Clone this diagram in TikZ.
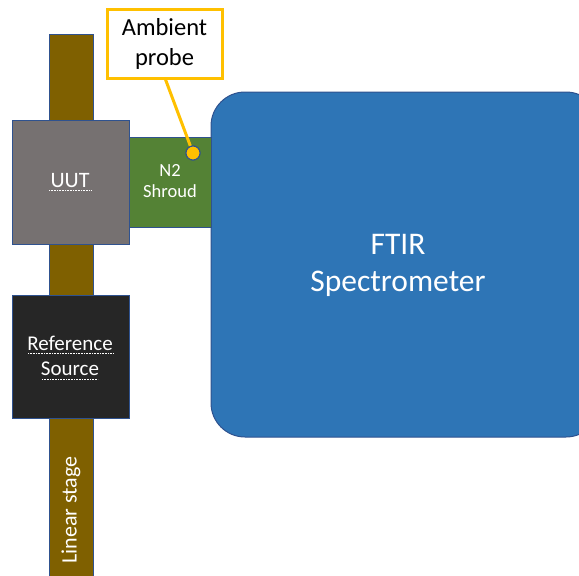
\documentclass[tikz,border=0pt]{standalone}
\usepackage{fontspec}
\setmainfont{Carlito}
\definecolor{stagebrown}{HTML}{7F6000}
\definecolor{uutgray}{HTML}{767171}
\definecolor{shroudgreen}{HTML}{548235}
\definecolor{ftirblue}{HTML}{2E75B6}
\definecolor{edgeblue}{HTML}{2F528F}
\definecolor{probeyellow}{HTML}{FFC000}
\definecolor{refdark}{HTML}{262626}
\begin{document}
\begin{tikzpicture}[x=1pt,y=-1pt,
  blk/.style={draw=edgeblue,line width=1pt,inner sep=0pt},
  wtext/.style={text=white,align=center,inner sep=0pt},
  ul/.style={white,line width=0.6pt,densely dotted}]
\useasboundingbox (0,0) rectangle (579,576);
% linear stage bar
\path[blk,fill=stagebrown] (49,34) rectangle (93,580);
% FTIR
\path[blk,fill=ftirblue,rounded corners=34pt] (211,92) rectangle (600,437);
\node[wtext,font=\fontsize{31.5}{37}\selectfont] (ftir) at (398,265) {FTIR\\Spectrometer};
% N2 shroud
\path[blk,fill=shroudgreen] (129,137) rectangle (211,227);
\node[wtext,font=\fontsize{18.5}{21}\selectfont] (shroud) at (170,181) {N2\\Shroud};
% UUT
\path[blk,fill=uutgray] (12,120) rectangle (129,244);
\node[wtext,font=\fontsize{22}{24}\selectfont] (uut) at (70,181) {UUT};
\draw[ul] (49,190) -- (92,190);
% Reference source
\path[blk,fill=refdark] (12,295) rectangle (129,418);
\node[wtext,font=\fontsize{21}{25}\selectfont] (ref) at (70,356) {Reference\\Source};
\draw[ul] (28,353) -- (114,353);
\draw[ul] (42,379) -- (98,379);
% linear stage label
\node[wtext,rotate=90,font=\fontsize{22}{24}\selectfont] (stage) at (71,510) {Linear stage};
% ambient probe
\node[draw=probeyellow,line width=3pt,fill=white,minimum width=115pt,minimum height=69pt,align=center,inner sep=0pt,font=\fontsize{24.5}{30}\selectfont] (amb) at (164.5,43.5) {Ambient\\probe};
\node[circle,draw=edgeblue,line width=1pt,fill=probeyellow,minimum size=14pt,inner sep=0pt] (probe) at (193,153) {};
\draw[probeyellow,line width=3pt] (amb.south) ++(1,0) coordinate (ls) (ls) -- (probe);
\node[circle,draw=edgeblue,line width=1pt,fill=probeyellow,minimum size=14pt,inner sep=0pt] at (probe) {};
\end{tikzpicture}
\end{document}
